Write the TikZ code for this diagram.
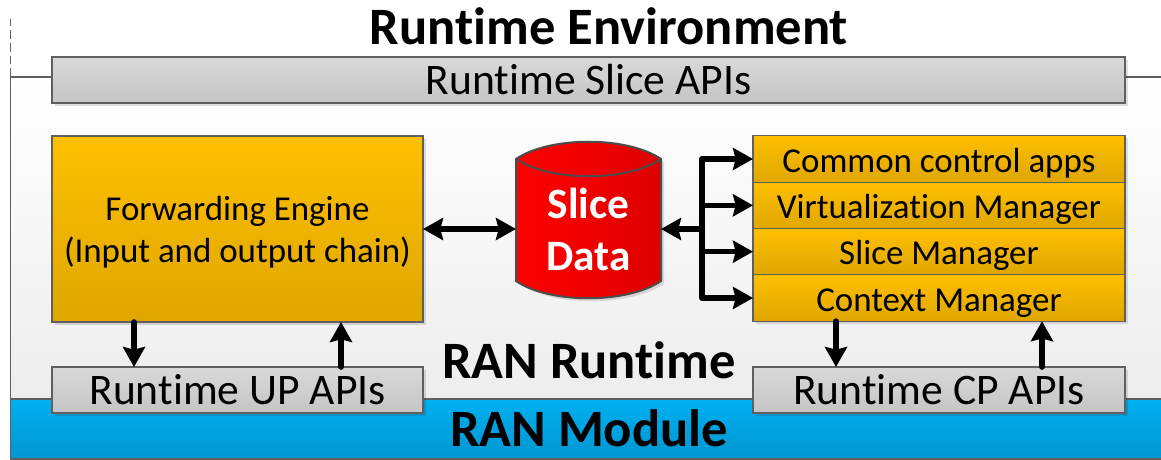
\documentclass[tikz,border=0pt]{standalone}
\usepackage{fontspec}
\setmainfont{Carlito}[Ligatures=NoCommon]
\usetikzlibrary{positioning}
\usetikzlibrary{arrows.meta}
\usetikzlibrary{shadows}
\definecolor{edgegray}{HTML}{5F5F5F}
\definecolor{goldtop}{HTML}{FFC000}
\definecolor{goldlow}{HTML}{DEA600}
\definecolor{bluetop}{HTML}{00B0F0}
\definecolor{bluelow}{HTML}{0096D0}
\definecolor{redleft}{HTML}{FF0000}
\definecolor{redright}{HTML}{DE0000}
\tikzset{
	block/.style={
		rectangle,
		draw=edgegray,
		line width=.9pt,
		align=center,
		inner sep=0pt,
		outer sep=0pt,
		drop shadow={shadow xshift=2pt, shadow yshift=-2pt, opacity=.12, fill=black}
	},
	apibox/.style={
		block,
		top color=black!15,
		bottom color=black!23,
		minimum height=34.5pt,
		font=\fontsize{32.7}{38}\selectfont
	},
	goldbox/.style={
		block,
		top color=goldtop,
		middle color=goldtop!92!goldlow,
		bottom color=goldlow,
		font=\fontsize{26.2}{31.5}\selectfont
	},
	appbox/.style={
		goldbox,
		minimum width=279pt,
		minimum height=34.75pt,
		text height=20.75pt,
		text depth=1.25pt
	},
	link/.style={
		-{Stealth[length=15pt,width=16.5pt,inset=2pt]},
		line width=4.2pt,
		line join=round,
		line cap=round
	},
	heading/.style={
		inner sep=0pt,
		font=\fontsize{39.4}{44}\selectfont\bfseries
	}
}
\begin{document}
\begin{tikzpicture}[x=.75pt,y=-.75pt]
	\useasboundingbox (0,0) rectangle (1161,460);
	% backdrop
	\fill[top color=white, bottom color=black!7] (10.5,77) rectangle (1161,399);
	\fill[top color=bluetop, bottom color=bluelow] (10.5,399) rectangle (1161,459);
	\draw[edgegray, line width=.9pt] (1161,77) -- (10.5,77) -- (10.5,459) -- (1161,459);
	\draw[edgegray, line width=.9pt] (10.5,399) -- (1161,399);
	\draw[edgegray, line width=.75pt, dash pattern=on 6.5pt off 3pt] (10.5,77) -- (10.5,19);

	\node[heading] (Title) at (609,26.5) {Runtime Environment};
	\node[apibox, minimum width=804.75pt] (SliceAPI) at (588.5,80) {Runtime Slice APIs};
	\node[goldbox, minimum width=278.25pt, minimum height=139.5pt] (Engine) at (237.5,229) {\rule{0pt}{22.5pt}Forwarding Engine\\(Input and output chain)};

	\node[appbox] (Common) at (939,159) {Common control apps};
	\node[appbox, below=0pt of Common] (Virt) {Virtualization Manager};
	\node[appbox, below=0pt of Virt] (SliceMgr) {Slice Manager};
	\node[appbox, below=0pt of SliceMgr] (Context) {Context Manager};

	\node[apibox, minimum width=278.25pt] (UP) at (237.5,390) {Runtime UP APIs};
	\node[apibox, minimum width=279pt] (CP) at (939,390) {Runtime CP APIs};

	% drum
	\fill[black, opacity=.12] (519,162) .. controls (553,139) and (630,139) .. (664,162) -- (664,284) .. controls (630,307) and (553,307) .. (519,284) -- cycle;
	\draw[draw=edgegray!80!black, line width=1.5pt, left color=redleft, right color=redright] (516,159) .. controls (550,136) and (627,136) .. (661,159) -- (661,281) .. controls (627,304) and (550,304) .. (516,281) -- cycle;
	\draw[draw=edgegray!80!black, line width=1.5pt] (516,159) .. controls (550,182) and (627,182) .. (661,159);
	\node[minimum width=108.75pt, minimum height=102pt, inner sep=0pt, outer sep=0pt,
		align=center, text=white, font=\fontsize{32.5}{39}\selectfont\bfseries] (Data) at (588.5,229) {Slice\\Data};

	\node[heading] (Runtime) at (589,360.5) {RAN Runtime};
	\node[heading] (Module) at (589,428) {RAN Module};

	\coordinate (Bus) at (702,229);
	\draw[link, {Stealth[length=15pt,width=16.5pt,inset=2pt]}-{Stealth[length=15pt,width=16.5pt,inset=2pt]}] (Engine.east) -- (Engine.east -| Data.west);
	\draw[link] (Bus) -- (Bus -| Data.east);
	\draw[link] (Bus) |- (Common.west);
	\draw[link] (Bus) |- (Virt.west);
	\draw[link] (Bus) |- (SliceMgr.west);
	\draw[link] (Bus) |- (Context.west);

	\draw[link] (Engine.south -| 134,0) -- (UP.north -| 134,0);
	\draw[link] (UP.north -| 341,0) -- (Engine.south -| 341,0);
	\draw[link] (Context.south -| 836,0) -- (CP.north -| 836,0);
	\draw[link] (CP.north -| 1042,0) -- (Context.south -| 1042,0);
\end{tikzpicture}
\end{document}
